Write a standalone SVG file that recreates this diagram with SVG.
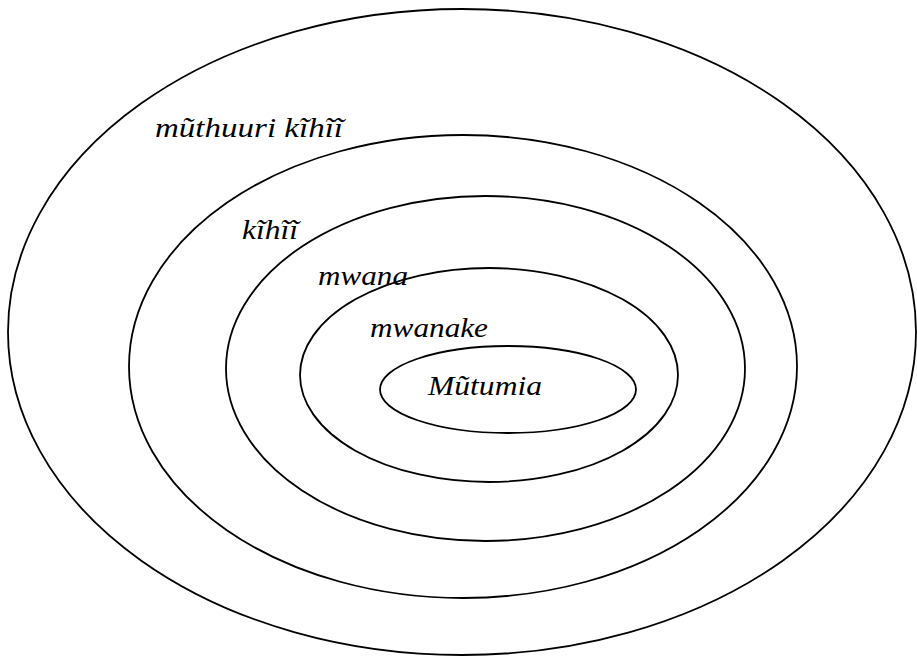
<svg xmlns="http://www.w3.org/2000/svg" width="917" height="656" viewBox="0 0 917 656">
<style>
.ring{fill:none;stroke:#000;stroke-width:1.8}
.lbl{font-family:"Liberation Serif","Times New Roman",serif;font-style:italic;font-size:28px;fill:#000}
</style>
<rect width="917" height="656" fill="#fff"/>
<g id="ring1"><ellipse class="ring" cx="462" cy="332" rx="454" ry="323"/><text class="lbl" x="155" y="137" textLength="188" lengthAdjust="spacingAndGlyphs">mũthuuri kĩhĩĩ</text></g>
<g id="ring2"><ellipse class="ring" cx="463" cy="366.5" rx="334" ry="231.5"/><text class="lbl" x="242" y="239" textLength="56" lengthAdjust="spacingAndGlyphs">kĩhĩĩ</text></g>
<g id="ring3"><ellipse class="ring" cx="485.5" cy="368.5" rx="259.5" ry="172.5"/><text class="lbl" x="318" y="285" textLength="90" lengthAdjust="spacingAndGlyphs">mwana</text></g>
<g id="ring4"><ellipse class="ring" cx="489" cy="375" rx="189" ry="107"/><text class="lbl" x="370" y="337" textLength="118" lengthAdjust="spacingAndGlyphs">mwanake</text></g>
<g id="ring5"><ellipse class="ring" cx="508" cy="389.5" rx="128" ry="43.5"/><text class="lbl" x="428" y="395" textLength="114" lengthAdjust="spacingAndGlyphs">Mũtumia</text></g>
<g id="connectors"/>
</svg>
